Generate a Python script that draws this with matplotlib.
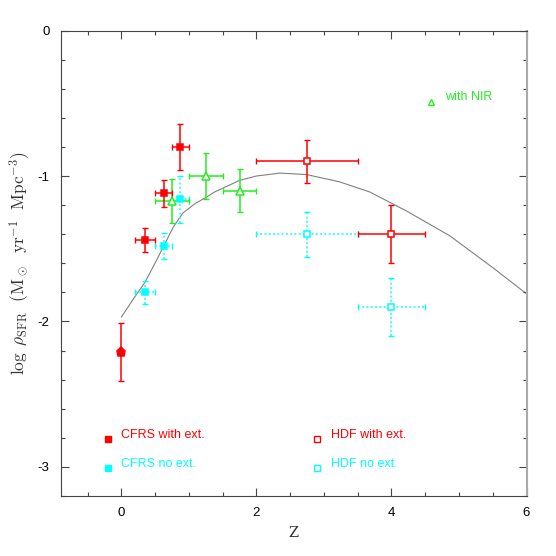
import matplotlib
matplotlib.use("Agg")
import matplotlib.pyplot as plt
from matplotlib.ticker import MultipleLocator, FixedLocator

plt.rcParams['font.family'] = ['Liberation Sans', 'DejaVu Sans']
plt.rcParams['mathtext.fontset'] = 'cm'

# ---- data ----
model_z = [0.0, 0.2, 0.35, 0.52, 0.64, 0.77, 0.91, 1.09, 1.26, 1.38, 1.75, 2.0, 2.35, 2.74,
           3.23, 3.68, 4.22, 4.86, 5.5, 6.0]
model_logrho = [-1.97, -1.83, -1.73, -1.58, -1.47, -1.35, -1.255, -1.19, -1.145, -1.11, -1.03,
                -1.0, -0.98, -0.99, -1.04, -1.11, -1.24, -1.41, -1.63, -1.81]

local_z = [0.0]
local_y = [-2.21]
local_yerr = [0.2]

cfrs_z = [0.35, 0.625, 0.875]
cfrs_zerr = [0.15, 0.125, 0.125]
cfrs_ext_y = [-1.44, -1.12, -0.80]
cfrs_ext_yerr = [0.08, 0.09, 0.16]
cfrs_noext_y = [-1.80, -1.48, -1.16]
cfrs_noext_yerr = [0.08, 0.09, 0.16]

nir_z = [0.75, 1.25, 1.75]
nir_zerr = [0.25, 0.25, 0.25]
nir_y = [-1.17, -1.0, -1.1]
nir_yerr = [0.15, 0.155, 0.15]

hdf_z = [2.75, 4.0]
hdf_zerr = [0.75, 0.5]
hdf_ext_y = [-0.9, -1.4]
hdf_ext_yerr = [0.15, 0.2]
hdf_noext_y = [-1.4, -1.9]
hdf_noext_yerr = [0.155, 0.2]

legend_labels = ["CFRS with ext.", "CFRS no ext.", "HDF with ext.", "HDF no ext.", "with NIR"]

RED = '#ff0000'
CYAN = '#00ffff'
GREEN = '#22ee22'

fig = plt.figure(figsize=(5.56, 5.56), dpi=100)
ax = fig.add_axes([0.109, 0.108, 0.838, 0.837])

ax.plot(model_z, model_logrho, color='#808080', lw=0.8, zorder=1)

dotted = (0, (1.2, 1.6))

def eb(x, y, xerr, yerr, color, marker, ms, filled, ls='-'):
    kw = dict(fmt='none', ecolor=color, elinewidth=1.1, capsize=2.2, capthick=1.0, zorder=2)
    c = ax.errorbar(x, y, xerr=xerr, yerr=yerr, **kw)
    for lc in c[2]:
        lc.set_linestyle(ls)
    ax.plot(x, y, ls='none', marker=marker, ms=ms, color=color,
            mfc=color if filled else 'white', mec=color, mew=1.1, zorder=3)

eb(cfrs_z, cfrs_noext_y, cfrs_zerr, cfrs_noext_yerr, CYAN, 's', 4.8, True, dotted)
eb(hdf_z, hdf_noext_y, hdf_zerr, hdf_noext_yerr, CYAN, 's', 5, False, dotted)
eb(nir_z, nir_y, nir_zerr, nir_yerr, GREEN, '^', 5.5, False)
eb(cfrs_z, cfrs_ext_y, cfrs_zerr, cfrs_ext_yerr, RED, 's', 4.8, True)
eb(hdf_z, hdf_ext_y, hdf_zerr, hdf_ext_yerr, RED, 's', 5, False)
eb(local_z, local_y, None, local_yerr, RED, 'p', 6.5, True)

# legend as markers + text
leg = [(-0.2, -2.81, RED, 's', True, legend_labels[0], 0.0),
       (-0.2, -3.01, CYAN, 's', True, legend_labels[1], 0.0),
       (2.9, -2.81, RED, 's', False, legend_labels[2], 3.1),
       (2.9, -3.01, CYAN, 's', False, legend_labels[3], 3.1),
       (4.59, -0.49, GREEN, '^', False, legend_labels[4], 4.8)]
for mx, my, col, mk, filled, lab, tx in leg:
    ax.plot([mx], [my], ls='none', marker=mk, ms=4.5, color=col,
            mfc=col if filled else 'white', mec=col, mew=1.0)
    ax.text(tx, my + 0.03, lab, color=col, fontsize=9, va='center', ha='left')

ax.set_xlim(-0.9, 6)
ax.set_ylim(-3.2, 0)
ax.xaxis.set_major_locator(FixedLocator([0, 2, 4, 6]))
ax.xaxis.set_minor_locator(MultipleLocator(0.5))
ax.yaxis.set_major_locator(FixedLocator([-3, -2, -1, 0]))
ax.yaxis.set_minor_locator(MultipleLocator(0.2))
ax.set_xticklabels(['0', '2', '4', '6'])
ax.set_yticklabels(['-3', '-2', '-1', '0'])
ax.tick_params(which='both', direction='in', top=True, right=True, color='#444444', width=0.8)
ax.tick_params(which='major', length=5.8, labelsize=9.5, pad=8)
ax.tick_params(which='minor', length=2.9)

for s in ['left', 'bottom', 'top']:
    ax.spines[s].set_color('#444444')
    ax.spines[s].set_linewidth(0.8)
ax.spines['right'].set_color('#aaaaaa')
ax.spines['right'].set_linewidth(1.5)

ax.set_xlabel('Z', family='DejaVu Serif', fontsize=10.5, labelpad=5, color='#333333')
ax.set_ylabel(r'$\log\ \rho_{\rm SFR}\ \ ({\rm M}_\odot\ \ {\rm yr}^{-1}\ \ {\rm Mpc}^{-3})$',
              fontsize=12.5, labelpad=4, color='#333333')

fig.savefig('out.png', dpi=100)
